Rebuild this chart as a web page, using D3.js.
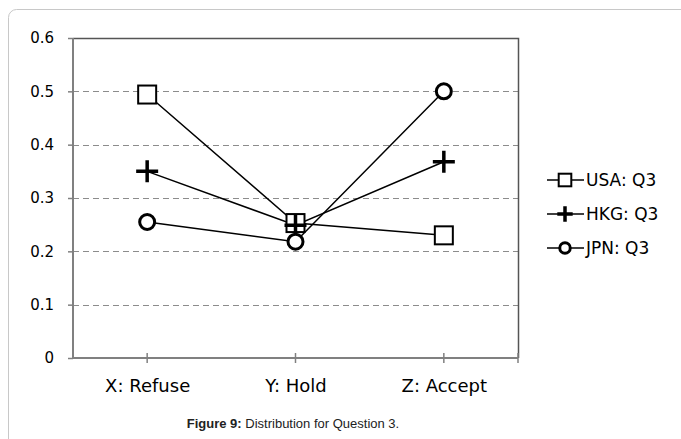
<!DOCTYPE html>
<html>
<head>
<meta charset="utf-8">
<script src="https://cdnjs.cloudflare.com/ajax/libs/d3/7.8.5/d3.min.js"></script>
<style>
body { margin: 0; background: #fff; }
svg text { font-family: "DejaVu Sans", sans-serif; }
</style>
</head>
<body>
<div id="vis"></div>
<script>
var categories = ['X: Refuse', 'Y: Hold', 'Z: Accept'];
var usa = [0.494, 0.253, 0.23];
var hkg = [0.35, 0.249, 0.368];
var jpn = [0.255, 0.218, 0.5];
var y_ticks = [0, 0.1, 0.2, 0.3, 0.4, 0.5, 0.6];
var series_names = ['USA: Q3', 'HKG: Q3', 'JPN: Q3'];

var width = 681, height = 439;
var margin = { top: 38, left: 73, right: 163, bottom: 81 };

var svg = d3.select('#vis')
    .append('svg')
    .attr('width', width)
    .attr('height', height);

// outer figure frame
svg.append('rect')
    .attr('x', 8.5).attr('y', 9.5)
    .attr('width', 800).attr('height', 600)
    .attr('rx', 8)
    .attr('fill', 'none')
    .attr('stroke', '#c8c8c8');

var plot_w = width - margin.left - margin.right;
var plot_h = height - margin.top - margin.bottom;

var g = svg.append('g')
    .attr('transform', 'translate(' + margin.left + ',' + margin.top + ')');

var x_scale = d3.scalePoint()
    .domain(categories)
    .range([0, plot_w])
    .padding(0.5);

var y_scale = d3.scaleLinear()
    .domain([0, 0.6])
    .range([plot_h, 0]);

// gridlines
g.selectAll('.grid')
    .data(y_ticks.filter(function (d) { return d > 0 && d < 0.6; }))
    .enter()
    .append('line')
    .attr('x1', 0).attr('x2', plot_w)
    .attr('y1', function (d) { return Math.round(y_scale(d)) + 0.5; })
    .attr('y2', function (d) { return Math.round(y_scale(d)) + 0.5; })
    .attr('stroke', '#8c8c8c')
    .attr('stroke-dasharray', '6,4');

// top and right border of plot area
g.append('path')
    .attr('d', 'M0,0.5H' + (plot_w + 0.5) + 'V' + plot_h)
    .attr('fill', 'none')
    .attr('stroke', '#555')
    .attr('stroke-width', 1.5);

// y axis
var y_axis = d3.axisLeft(y_scale)
    .tickValues(y_ticks)
    .tickSize(5)
    .tickPadding(14)
    .tickFormat(function (d) { return d === 0 ? '0' : d3.format('.1f')(d); });

var ya = g.append('g')
    .attr('class', 'y axis')
    .call(y_axis);
ya.select('.domain').attr('stroke', '#808080').attr('stroke-width', 2).attr('d', 'M0,0V' + plot_h);
ya.selectAll('.tick line').attr('stroke', '#808080').attr('stroke-width', 1.5);
ya.selectAll('text').attr('font-size', 15).attr('fill', '#000');

// x axis
var x_axis = d3.axisBottom(x_scale)
    .tickSize(0)
    .tickPadding(21);

var xa = g.append('g')
    .attr('class', 'x axis')
    .attr('transform', 'translate(0,' + plot_h + ')')
    .call(x_axis);
xa.select('.domain').attr('stroke', '#808080').attr('stroke-width', 2).attr('d', 'M0,0H' + plot_w);
xa.selectAll('text').attr('font-size', 18).attr('fill', '#000');

// tick marks at category points and the right end
xa.selectAll('.cat-tick')
    .data(categories.map(function (c) { return x_scale(c); }).concat([plot_w]))
    .enter()
    .append('line')
    .attr('x1', function (d) { return d; })
    .attr('x2', function (d) { return d; })
    .attr('y1', -5).attr('y2', 5)
    .attr('stroke', '#808080')
    .attr('stroke-width', 1.5);

var all_series = [
    { name: series_names[0], values: usa, marker: 'square' },
    { name: series_names[1], values: hkg, marker: 'plus' },
    { name: series_names[2], values: jpn, marker: 'circle' }
];

var line = d3.line()
    .x(function (d, i) { return x_scale(categories[i]); })
    .y(function (d) { return y_scale(d); });

function drawMarker(sel, type, x, y, s) {
    if (type === 'square') {
        sel.append('rect')
            .attr('x', x - 9 * s).attr('y', y - 9 * s)
            .attr('width', 18 * s).attr('height', 18 * s)
            .attr('fill', '#fff')
            .attr('stroke', '#000')
            .attr('stroke-width', 2);
    } else if (type === 'circle') {
        sel.append('circle')
            .attr('cx', x).attr('cy', y)
            .attr('r', 7.5 * s)
            .attr('fill', '#fff')
            .attr('stroke', '#000')
            .attr('stroke-width', 3);
    } else {
        sel.append('path')
            .attr('d', 'M' + (x - 11 * s) + ',' + y + 'H' + (x + 11 * s) +
                'M' + x + ',' + (y - 11 * s) + 'V' + (y + 11 * s))
            .attr('stroke', '#000')
            .attr('stroke-width', 3.5);
    }
}

all_series.forEach(function (s) {
    g.append('path')
        .datum(s.values)
        .attr('d', line)
        .attr('fill', 'none')
        .attr('stroke', '#000')
        .attr('stroke-width', 1.5);
});

all_series.forEach(function (s) {
    var mg = g.append('g');
    s.values.forEach(function (v, i) {
        drawMarker(mg, s.marker, x_scale(categories[i]), y_scale(v), 1);
    });
});

// legend
var legend = svg.append('g');
all_series.forEach(function (s, i) {
    var ly = 180 + i * 34;
    var lg = legend.append('g');
    lg.append('line')
        .attr('x1', 547).attr('x2', 584)
        .attr('y1', ly).attr('y2', ly)
        .attr('stroke', '#000')
        .attr('stroke-width', 1.5);
    drawMarker(lg, s.marker, 565, ly, 0.7);
    lg.append('text')
        .attr('x', 586).attr('y', ly)
        .attr('dy', '0.36em')
        .attr('font-size', 17)
        .attr('fill', '#000')
        .text(s.name);
});

// caption
var cap = svg.append('text')
    .attr('x', 293).attr('y', 428)
    .attr('text-anchor', 'middle')
    .attr('font-size', 13)
    .style('font-family', 'Liberation Sans, Arial, sans-serif')
    .attr('fill', '#222');
cap.append('tspan').attr('font-weight', 'bold').text('Figure 9:');
cap.append('tspan').text(' Distribution for Question 3.');
</script>
</body>
</html>
